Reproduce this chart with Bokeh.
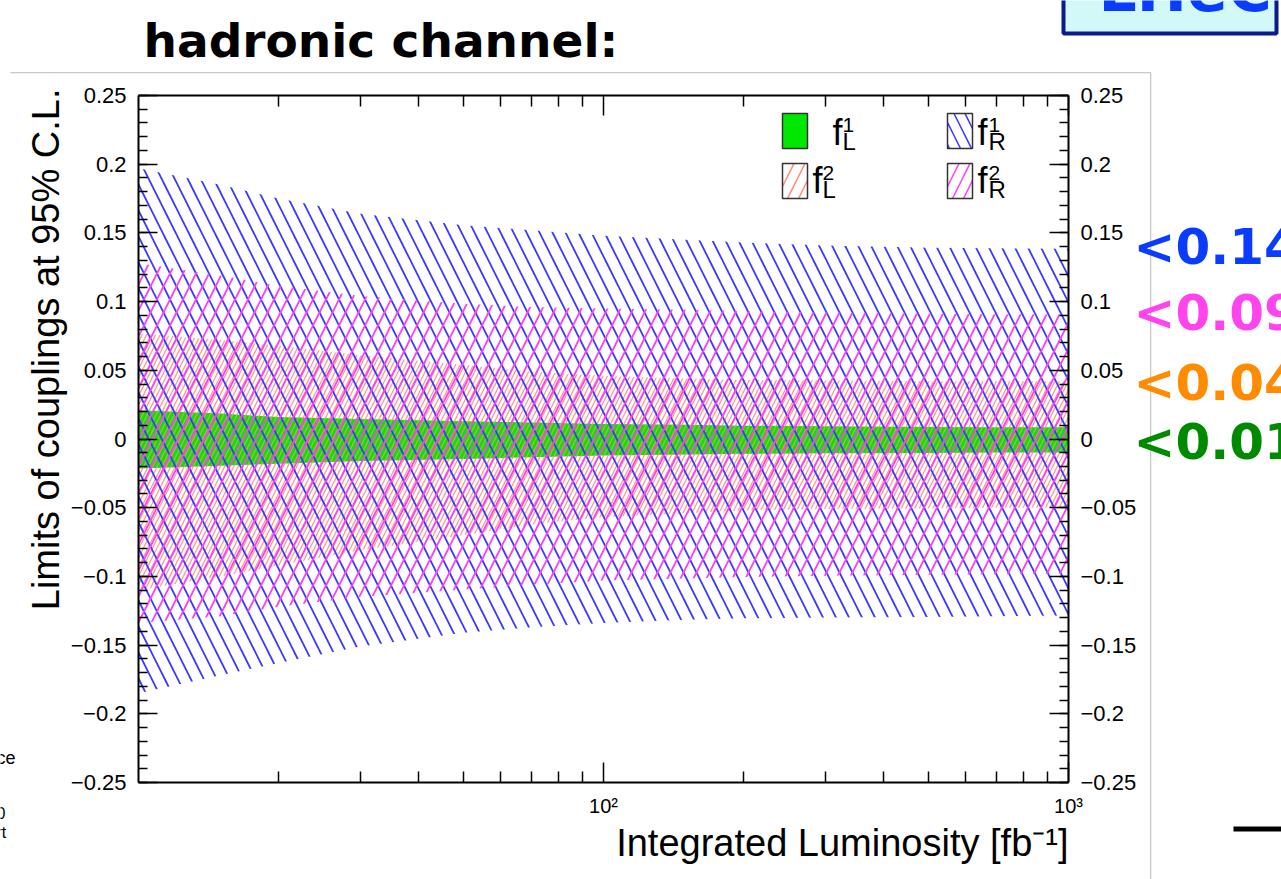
from bokeh.plotting import figure
from bokeh.models import (Label, BoxAnnotation, LinearAxis, LogAxis, FixedTicker, Range1d,
                          CustomJSTickFormatter, ColumnDataSource)
from bokeh.embed import file_html
from bokeh.resources import INLINE
import math

# ---------------- data ----------------
lumi = [10, 15, 20, 30, 50, 70, 100, 150, 200, 300, 500, 700, 1000]

fL1_up = [0.021, 0.0185, 0.016, 0.0145, 0.013, 0.012, 0.011, 0.0103, 0.0097, 0.0092, 0.0088, 0.0086, 0.0085]
fL1_lo = [-0.0215, -0.0195, -0.018, -0.016, -0.0145, -0.0132, -0.012, -0.0113, -0.0108, -0.0104, -0.0101, -0.0099, -0.0098]

fR1_up = [0.197, 0.185, 0.175, 0.164, 0.1555, 0.152, 0.148, 0.145, 0.143, 0.1408, 0.1392, 0.1388, 0.1385]
fR1_lo = [-0.185, -0.172, -0.163, -0.151, -0.141, -0.137, -0.134, -0.1315, -0.1305, -0.130, -0.1295, -0.129, -0.1285]

fR2_up = [0.128, 0.119, 0.1115, 0.104, 0.0985, 0.096, 0.095, 0.094, 0.093, 0.092, 0.0912, 0.0908, 0.0906]
fR2_lo = [-0.134, -0.129, -0.122, -0.115, -0.1095, -0.106, -0.103, -0.1015, -0.1005, -0.0995, -0.0988, -0.0984, -0.098]

fL2_up = [0.077, 0.072, 0.068, 0.061, 0.054, 0.049, 0.046, 0.044, 0.043, 0.0425, 0.042, 0.042, 0.042]
fL2_lo = [-0.11, -0.10, -0.092, -0.081, -0.07, -0.062, -0.057, -0.054, -0.052, -0.051, -0.0505, -0.05, -0.05]

x_lim = (10, 1000)
y_lim = (-0.25, 0.25)
y_ticks = [-0.25, -0.2, -0.15, -0.1, -0.05, 0.0, 0.05, 0.1, 0.15, 0.2, 0.25]
y_minor = [round(-0.25 + 0.01 * i, 2) for i in range(51)]
x_ticks = [100, 1000]
x_minor = [20, 30, 40, 50, 60, 70, 80, 90, 200, 300, 400, 500, 600, 700, 800, 900]
x_tick_labels = {100: "10²", 1000: "10³"}

limit_labels = ["<0.14", "<0.09", "<0.04", "<0.01"]
limit_colors = ["#0a3cff", "#ff44ee", "#ff8c00", "#008a00"]

# ---------------- layout helpers (pixel -> data) ----------------
FL, FR, FT, FB = 138, 1068, 95, 782
W, H = 1281, 879


def X(px):
    return 10 ** (1 + 2 * (px - FL) / (FR - FL))


def Y(py):
    return 0.25 - 0.5 * (py - FT) / (FB - FT)


src = ColumnDataSource(dict(lumi=lumi, fL1_up=fL1_up, fL1_lo=fL1_lo, fR1_up=fR1_up, fR1_lo=fR1_lo,
                            fR2_up=fR2_up, fR2_lo=fR2_lo, fL2_up=fL2_up, fL2_lo=fL2_lo))

# the frame covers the whole canvas; the chart's axes sit at fixed locations inside it
p = figure(width=W, height=H, x_axis_type="log",
           x_range=Range1d(X(0), X(W)), y_range=Range1d(Y(H), Y(0)),
           x_axis_location=None, y_axis_location=None,
           output_backend="svg", toolbar_location=None,
           min_border=0, min_border_left=0, min_border_right=0, min_border_top=0, min_border_bottom=0)
p.grid.visible = False
p.outline_line_color = None
p.background_fill_color = "white"
p.border_fill_color = "white"

BLUE = "#3a3aff"
PINK = "#ff40f0"
SALMON = "#ff8a7a"
GREEN = "#00e800"

# bands
p.varea(x="lumi", y1="fL1_lo", y2="fL1_up", source=src, fill_color=GREEN, fill_alpha=1.0)
p.varea(x="lumi", y1="fL2_lo", y2="fL2_up", source=src, fill_alpha=0, hatch_pattern="/",
        hatch_color=SALMON, hatch_weight=1.3, hatch_scale=9, hatch_alpha=0.85)
p.varea(x="lumi", y1="fR1_lo", y2="fR1_up", source=src, fill_alpha=0, hatch_pattern="\\",
        hatch_color=BLUE, hatch_weight=1.8, hatch_scale=26)
p.varea(x="lumi", y1="fR2_lo", y2="fR2_up", source=src, fill_alpha=0, hatch_pattern="/",
        hatch_color=PINK, hatch_weight=1.8, hatch_scale=26)

# axes
TICKFONT = "Liberation Sans"
xt = FixedTicker(ticks=x_ticks, minor_ticks=x_minor)
yt = FixedTicker(ticks=y_ticks, minor_ticks=y_minor)
yfmt = CustomJSTickFormatter(code="""
const v = Math.round(tick*100)/100;
return (v < 0 ? '\u2212' : '') + Math.abs(v).toString();
""")
blank = CustomJSTickFormatter(code="return '';")

bottom = LogAxis(fixed_location=y_lim[0], bounds=x_lim, ticker=xt, major_label_overrides=x_tick_labels)
top = LogAxis(fixed_location=y_lim[1], bounds=x_lim, ticker=xt, formatter=blank)
left = LinearAxis(fixed_location=x_lim[0], bounds=y_lim, ticker=yt, formatter=yfmt)
right = LinearAxis(fixed_location=x_lim[1], bounds=y_lim, ticker=yt, formatter=yfmt)
p.add_layout(bottom, "below")
p.add_layout(top, "above")
p.add_layout(left, "left")
p.add_layout(right, "right")

for ax in [bottom, top]:
    ax.major_tick_in = 20
    ax.major_tick_out = 0
    ax.minor_tick_in = 11
    ax.minor_tick_out = 0
    ax.major_label_text_font = TICKFONT
    ax.major_label_text_font_size = "20px"
    ax.major_label_standoff = 12

for ax in [left, right]:
    ax.major_tick_in = 19
    ax.major_tick_out = 0
    ax.minor_tick_in = 9
    ax.minor_tick_out = 0
    ax.major_label_text_font = TICKFONT
    ax.major_label_text_font_size = "22px"
    ax.major_label_standoff = 12
    ax.major_label_orientation = "horizontal"

for ax in [bottom, top, left, right]:
    ax.axis_line_width = 2
    ax.axis_line_color = "black"
    ax.major_tick_line_width = 1.5
    ax.minor_tick_line_width = 1.5
    ax.major_label_text_color = "black"

K = 0.37  # empirical shift so that the given point is the visual baseline


def lab(px, py, text, size, color="black", font="Liberation Sans", style="normal",
        align="left", angle=0.0):
    if angle == 0.0:
        py -= K * size
    else:
        px -= K * size
    p.add_layout(Label(x=X(px), y=Y(py), text=text, text_font=font, text_font_size=f"{size}px",
                       text_color=color, text_font_style=style, text_align=align,
                       text_baseline="alphabetic", angle=angle))


def bar(x0, x1, y0, y1, color):
    p.add_layout(BoxAnnotation(left=X(x0), right=X(x1), top=Y(y0), bottom=Y(y1),
                               fill_color=color, fill_alpha=1, line_alpha=0, level="underlay"))


# grey canvas edges (top and right) of the embedded ROOT picture
bar(10, 1150.5, 71.5, 72.8, "#c8c8c8")
bar(1149.5, 1150.8, 72, 900, "#c8c8c8")

# LHeC box at the top right
p.add_layout(BoxAnnotation(left=X(1063), right=X(1276), top=Y(-30), bottom=Y(33),
                           fill_color="#d2f8f8", fill_alpha=1, line_color="#0b1a8c", line_alpha=1,
                           line_width=4))
lab(1098, 12, "LHeC", 60, color="#0a3cff", font="DejaVu Sans", style="bold")
p.add_layout(BoxAnnotation(left=X(1233), right=X(1290), top=Y(826), bottom=Y(831),
                           fill_color="black", fill_alpha=1, line_alpha=0))

# title
lab(143, 57, "hadronic channel:", 47, font="DejaVu Sans", style="bold")

# axis titles
lab(60, 88, "Limits of couplings at 95% C.L.", 38, align="right", angle=math.pi / 2)
lab(1068, 857, "Integrated Luminosity [fb⁻¹]", 38, align="right")

# right-hand limits
for py, t, c in zip([265, 331, 401, 460], limit_labels, limit_colors):
    lab(1133, py, t, 50, color=c, font="DejaVu Sans", style="bold")

# left fragments of neighbouring slide content
lab(-4, 764, "ce", 18)
lab(-4, 818, "0", 16)
lab(-4, 838, "rt", 16)


# legend swatches
def swatch(x0, y0, **kw):
    p.quad(left=X(x0), right=X(x0 + 25), top=Y(y0), bottom=Y(y0 + 35),
           line_color="#333333", line_width=1.5, **kw)


swatch(782, 113, fill_color=GREEN)
swatch(947, 113, fill_alpha=0, hatch_pattern="\\", hatch_color=BLUE, hatch_weight=1.5, hatch_scale=22)
swatch(782, 163, fill_alpha=0, hatch_pattern="/", hatch_color=SALMON, hatch_weight=1.5, hatch_scale=22)
swatch(947, 163, fill_alpha=0, hatch_pattern="/", hatch_color=PINK, hatch_weight=1.5, hatch_scale=22)

# legend texts f^i_X
for fx, sx, fy, sup, sub in [(832, 842, 145, "1", "L"), (977, 988, 145, "1", "R"),
                             (812, 822, 193, "2", "L"), (977, 988, 193, "2", "R")]:
    lab(fx, fy, "f", 36)
    lab(sx, fy - 13, sup, 21)
    lab(sx, fy + 5, sub, 24)

open("out.html", "w").write(file_html(p, INLINE))
